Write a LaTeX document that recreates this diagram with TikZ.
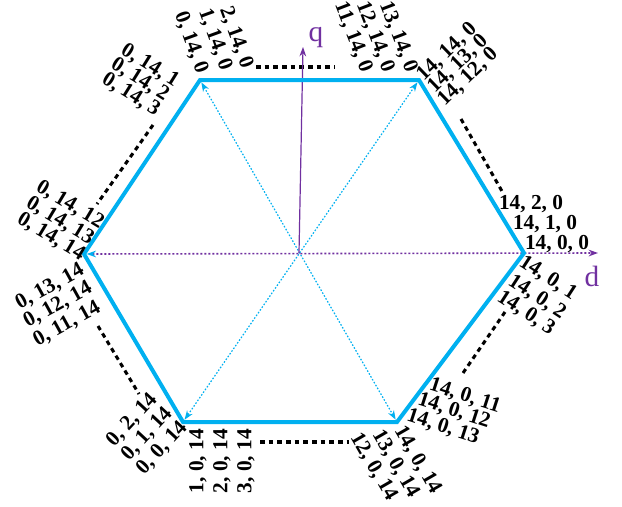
\documentclass[tikz,border=0pt]{standalone}
\usepackage{fontspec}
\setmainfont{Liberation Serif}
\usetikzlibrary{arrows.meta}
\definecolor{hexblue}{RGB}{0,176,240}
\definecolor{axpurple}{RGB}{112,48,160}
\begin{document}
\begin{tikzpicture}[x=0.75pt,y=-0.75pt,
  lbl/.style={font=\fontsize{16}{18}\selectfont\bfseries, inner sep=0pt},
  axlbl/.style={font=\fontsize{22}{24}\selectfont, text=axpurple, inner sep=0pt},
  hexline/.style={draw=hexblue, line width=3pt, line join=miter},
  dashl/.style={draw=black, line width=2.3pt, dash pattern=on 3.5pt off 3pt},
  diag/.style={draw=hexblue, line width=0.9pt, dash pattern=on 1.2pt off 1.3pt,
    {Stealth[length=7pt,width=5pt]}-{Stealth[length=7pt,width=5pt]}, shorten <=2pt, shorten >=2pt},
  daxis/.style={draw=axpurple, line width=1.2pt, dash pattern=on 1.5pt off 1.5pt},
  qaxis/.style={draw=axpurple, line width=0.9pt, -{Stealth[length=7pt,width=5pt]}}
]
\useasboundingbox (0,0) rectangle (622,507);
% vertices
\coordinate (O) at (299,253);
\coordinate (R) at (524,253);
\coordinate (TR) at (419,80);
\coordinate (TL) at (200,80);
\coordinate (L) at (84,254);
\coordinate (BL) at (183,422);
\coordinate (BR) at (397,422);
\coordinate (dend) at (598,253);
\coordinate (qend) at (303,47);
% dashed segments
\coordinate (t1) at (256,67); \coordinate (t2) at (335,67);
\coordinate (ur1) at (461,119); \coordinate (ur2) at (503,193);
\coordinate (lr1) at (505,312); \coordinate (lr2) at (463,373);
\coordinate (b1) at (260,442); \coordinate (b2) at (349,442);
\coordinate (ll1) at (98,326); \coordinate (ll2) at (139,394);
\coordinate (ul1) at (153,125); \coordinate (ul2) at (97,204);
\draw[dashl] (t1) -- (t2);
\draw[dashl] (ur1) -- (ur2);
\draw[dashl] (lr1) -- (lr2);
\draw[dashl] (b1) -- (b2);
\draw[dashl] (ll1) -- (ll2);
\draw[dashl] (ul1) -- (ul2);
% diagonals and axes
\draw[diag] (TL) -- (BR);
\draw[diag] (TR) -- (BL);
\draw[daxis, {Stealth[length=7pt,width=5pt,color=hexblue]}-{Stealth[length=7pt,width=5pt]}, shorten <=2pt] (L) -- (dend);
\draw[qaxis] (O) -- (qend);
% hexagon
\draw[hexline] (R) -- (TR) -- (TL) -- (L) -- (BL) -- (BR) -- cycle;
% axis labels
\node[axlbl] (q) at (316,38) {q};
\node[axlbl] (d) at (592,276) {d};
% vertex labels
\node[lbl, rotate=-70] (a1) at (191,43) {0, 14, 0};
\node[lbl, rotate=-70] (a2) at (215,40) {1, 14, 0};
\node[lbl, rotate=-70] (a3) at (236,38) {2, 14, 0};
\node[lbl, rotate=-69] (b1n) at (353,37) {11, 14, 0};
\node[lbl, rotate=-69] (b2n) at (375,37) {12, 14, 0};
\node[lbl, rotate=-69] (b3n) at (398,37) {13, 14, 0};
\node[lbl, rotate=44] (c1) at (447,52) {14, 14, 0};
\node[lbl, rotate=44] (c2) at (458,64) {14, 13, 0};
\node[lbl, rotate=44] (c3) at (468,77) {14, 12, 0};
\node[lbl, rotate=-32] (e1) at (150,66) {0, 14, 1};
\node[lbl, rotate=-32] (e2) at (140,80) {0, 14, 2};
\node[lbl, rotate=-32] (e3) at (131,95) {0, 14, 3};
\node[lbl, rotate=-31] (f1) at (70,205) {0, 14, 12};
\node[lbl, rotate=-31] (f2) at (60,221) {0, 14, 13};
\node[lbl, rotate=-31] (f3) at (51,237) {0, 14, 14};
\node[lbl, rotate=29] (g1) at (50,287) {0, 13, 14};
\node[lbl, rotate=29] (g2) at (58,305) {0, 12, 14};
\node[lbl, rotate=29] (g3) at (67,324) {0, 11, 14};
\node[lbl] (h1) at (531,204) {14, 2, 0};
\node[lbl] (h2) at (545,224) {14, 1, 0};
\node[lbl] (h3) at (557,244) {14, 0, 0};
\node[lbl, rotate=-33] (i1) at (548,278) {14, 0, 1};
\node[lbl, rotate=-33] (i2) at (537,297) {14, 0, 2};
\node[lbl, rotate=-33] (i3) at (526,313) {14, 0, 3};
\node[lbl, rotate=-18] (j1) at (465,396) {14, 0, 11};
\node[lbl, rotate=-18] (j2) at (454,411) {14, 0, 12};
\node[lbl, rotate=-18] (j3) at (443,427) {14, 0, 13};
\node[lbl, rotate=-60] (k1) at (418,460) {14, 0, 14};
\node[lbl, rotate=-60] (k2) at (396,464) {13, 0, 14};
\node[lbl, rotate=-60] (k3) at (374,467) {12, 0, 14};
\node[lbl, rotate=47] (m1) at (132,420) {0, 2, 14};
\node[lbl, rotate=47] (m2) at (147,434) {0, 1, 14};
\node[lbl, rotate=47] (m3) at (162,448) {0, 0, 14};
\node[lbl, rotate=90] (n1) at (198,461) {1, 0, 14};
\node[lbl, rotate=90] (n2) at (222,461) {2, 0, 14};
\node[lbl, rotate=90] (n3) at (246,461) {3, 0, 14};
\end{tikzpicture}
\end{document}
